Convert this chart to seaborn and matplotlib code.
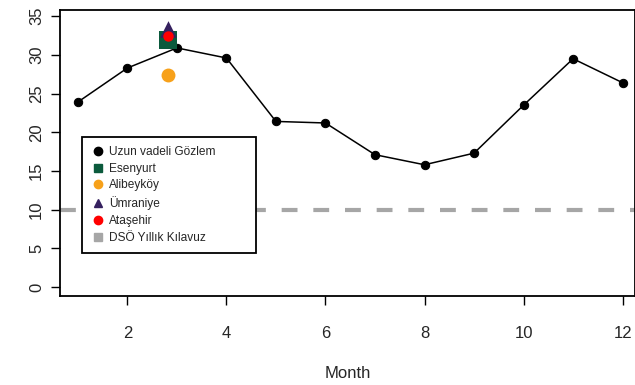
import matplotlib
matplotlib.use("Agg")
import matplotlib.pyplot as plt
from matplotlib.lines import Line2D
import seaborn as sns
import pandas as pd

# long-term monthly observations
months = [1, 2, 3, 4, 5, 6, 7, 8, 9, 10, 11, 12]
gozlem = [23.9, 28.3, 30.9, 29.6, 21.4, 21.2, 17.1, 15.8, 17.3, 23.5, 29.5, 26.4]

# station measurements (single month)
site_month = 2.82
site_names = ["Esenyurt", "Alibeyköy", "Ümraniye", "Ataşehir"]
site_values = [31.9, 27.4, 33.4, 32.4]
site_colors = ["#0b5a3c", "#f7a11a", "#35205f", "#ff0000"]
site_markers = ["s", "o", "^", "o"]
site_sizes = [13, 10, 12, 7.5]

guideline = 10
x_ticks = [2, 4, 6, 8, 10, 12]
y_ticks = [0, 5, 10, 15, 20, 25, 30, 35]

sns.set_style("white")
plt.rcParams["font.family"] = ["Liberation Sans", "DejaVu Sans"]

fig = plt.figure(figsize=(6.35, 3.85), dpi=100)
ax = fig.add_axes([60 / 635, 89 / 385, 575 / 635, 286 / 385])

df = pd.DataFrame({"Month": months, "value": gozlem})
sns.lineplot(data=df, x="Month", y="value", ax=ax, color="black", lw=1.1,
             marker="o", markersize=6, markeredgecolor="black")

ax.axhline(guideline, color="#a6a6a6", lw=3, ls=(0, (3.8, 3.8)), zorder=1)

draw_order = [0, 2, 1, 3]
for i in draw_order:
    sdf = pd.DataFrame({"Month": [site_month], "value": [site_values[i]]})
    sns.scatterplot(data=sdf, x="Month", y="value", ax=ax, color=site_colors[i],
                    marker=site_markers[i], s=site_sizes[i] ** 2, linewidth=0,
                    zorder=5 + i)

ax.set_xlim(0.64, 12.25)
ax.set_ylim(-1.16, 35.8)
ax.set_xticks(x_ticks)
ax.set_yticks(y_ticks)
ax.set_yticklabels([str(v) for v in y_ticks], rotation=90, va="center")
ax.tick_params(axis="x", bottom=True, length=6.5, width=1, pad=15, labelsize=12, color="black")
ax.tick_params(axis="y", left=True, length=6.5, width=1, pad=5, labelsize=12, color="black")
ax.set_xlabel("Month", fontsize=12, labelpad=18)
ax.set_ylabel("")
for side in ["left", "bottom", "top", "right"]:
    ax.spines[side].set_color("black")
    ax.spines[side].set_linewidth(1.3)

handles = [
    Line2D([], [], ls="", marker="o", color="black", markersize=6),
    Line2D([], [], ls="", marker="s", color=site_colors[0], markersize=6),
    Line2D([], [], ls="", marker="o", color=site_colors[1], markersize=6),
    Line2D([], [], ls="", marker="^", color=site_colors[2], markersize=6),
    Line2D([], [], ls="", marker="o", color=site_colors[3], markersize=6),
    Line2D([], [], ls="", marker="s", color="#a6a6a6", markersize=6),
]
labels = ["Uzun vadeli Gözlem"] + site_names + ["DSÖ Yıllık Kılavuz"]
leg = ax.legend(handles, labels, loc="upper left",
                bbox_to_anchor=(22 / 575, 0.556, 174 / 575, 0.0), mode="expand",
                borderaxespad=0, fontsize=8.6, frameon=True, fancybox=False,
                framealpha=1, handletextpad=0.3, labelspacing=0.4, borderpad=0.75,
                handlelength=1.2)
leg.get_frame().set_edgecolor("black")
leg.get_frame().set_linewidth(1.3)

fig.savefig("out.png", dpi=100)
